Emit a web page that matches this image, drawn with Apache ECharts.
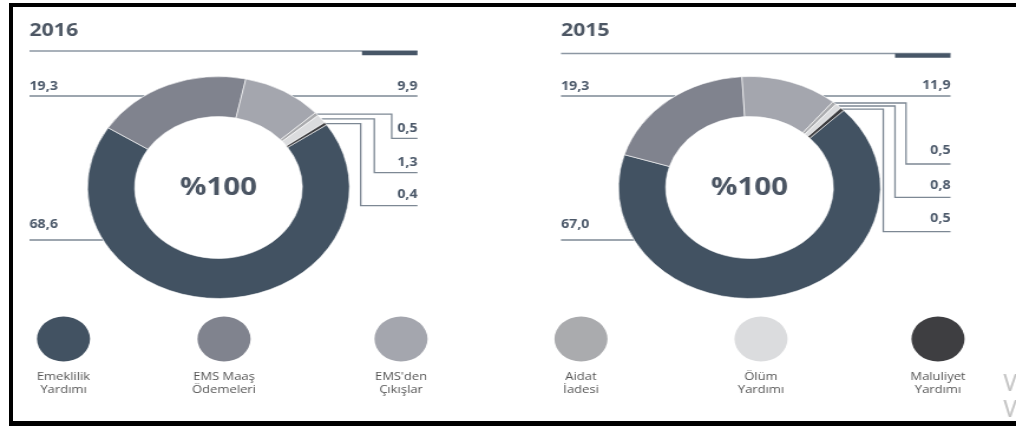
<!DOCTYPE html>
<html style="height: 100%; margin: 0">
<head>
<meta charset="UTF-8">
<title>EMS Ödemeleri 2016 / 2015</title>
<script src="https://cdn.jsdelivr.net/npm/echarts@6/dist/echarts.min.js"></script>
</head>
<body style="height: 100%; margin: 0; background: #fff; overflow: hidden">
<div id="container" style="position:absolute; left:0; top:0; width:861px; height:426px; transform:scaleX(1.18); transform-origin:0 0"></div>
<div style="position:absolute; left:9px; top:3px; width:1030px; height:414px; border-left:4px solid #000; border-top:4px solid #000; border-bottom:5px solid #000"></div>
<script type="text/javascript">
	// the reference picture is stretched sideways, so the chart is drawn narrow and scaled
	var S = 1.18;
	var W = 1016 / S;
	function ux(x) { return x / S; }

	var FONT = '"Open Sans", "Noto Sans", sans-serif';

	var years = ['2016', '2015'];
	var categories = ['Emeklilik Yardımı', 'EMS Maaş Ödemeleri', "EMS'den Çıkışlar", 'Aidat İadesi', 'Ölüm Yardımı', 'Maluliyet Yardımı'];
	var values2016 = [68.6, 19.3, 9.9, 0.5, 1.3, 0.4];
	var values2015 = [67.0, 19.3, 11.9, 0.5, 0.8, 0.5];
	var totalLabel = '%100';
	var colors = ['#425262', '#80838e', '#a4a6ae', '#aaabae', '#dbdcde', '#3e3e41'];

	// placement, in reference pixels
	var R_OUT = 111, R_IN = 71, CY = 187.5;
	var legendX = [63.5, 224, 401, 581, 761, 938];
	var rows2016 = [
		{ side: 'left', line: 240, text: 225 },
		{ side: 'left', line: 96, text: 86.5 },
		{ side: 'right', line: 96, text: 86.5 },
		{ side: 'step', col: 391.7, line: 138.3, text: 129 },
		{ side: 'step', col: 374.3, line: 172.7, text: 163 },
		{ side: 'step', col: 360.7, line: 205.7, text: 194.5 }
	];
	var rows2015 = [
		{ side: 'left', line: 240, text: 225 },
		{ side: 'left', line: 96, text: 86.5 },
		{ side: 'right', line: 96, text: 86 },
		{ side: 'step', col: 906, line: 164, text: 151 },
		{ side: 'step', col: 895, line: 197.3, text: 186 },
		{ side: 'step', col: 883.3, line: 231.7, text: 219 }
	];
	var donuts = [
		{ cx: 218.5, startAngle: 34.4, left: 29.5, right: 417.5, lineY: 51, values: values2016, rows: rows2016 },
		{ cx: 749.5, startAngle: 44, left: 561, right: 950.5, lineY: 53.5, values: values2015, rows: rows2015 }
	];

	function fmt(v) { return v.toFixed(1).replace('.', ','); }

	function labelLayoutFor(d) {
		var total = 0;
		d.values.forEach(function (v) { total += v; });
		return function (p) {
			var i = p.dataIndex, row = d.rows[i];
			var pts, x, align;
			if (row.side === 'step') {
				var before = 0;
				for (var k = 0; k < i; k++) before += d.values[k];
				var a = (90 - d.startAngle + (before + d.values[i] / 2) / total * 360) * Math.PI / 180;
				var sx = d.cx + R_OUT * S * Math.sin(a);
				var sy = CY - R_OUT * Math.cos(a);
				pts = [[sx, sy], [row.col, sy], [row.col, row.line], [d.right, row.line]];
				x = d.right; align = 'right';
			} else {
				var half = Math.sqrt(R_OUT * R_OUT - (row.line - CY) * (row.line - CY)) * S;
				if (row.side === 'left') {
					pts = [[d.cx - half, row.line], [d.left, row.line]];
					x = d.left; align = 'left';
				} else {
					pts = [[d.cx + half, row.line], [d.right, row.line]];
					x = d.right; align = 'right';
				}
			}
			return {
				x: ux(x), y: row.text, align: align, verticalAlign: 'middle',
				labelLinePoints: pts.map(function (q) { return [ux(q[0]), q[1]]; })
			};
		};
	}

	var dom = document.getElementById("container");
	var myChart = echarts.init(dom);

	var series = donuts.map(function (d) {
		return {
			type: 'pie',
			silent: true,
			center: [ux(d.cx), CY],
			radius: [R_IN, R_OUT],
			startAngle: d.startAngle,
			clockwise: true,
			avoidLabelOverlap: false,
			emphasis: { disabled: true },
			itemStyle: { borderColor: '#fff', borderWidth: 0.6 },
			label: {
				show: true,
				position: 'outside',
				formatter: function (p) { return fmt(p.value); },
				fontFamily: FONT, fontSize: 12, fontWeight: 'bold', color: '#4b5869'
			},
			labelLine: { show: true, smooth: false, lineStyle: { color: '#7d8894', width: 1.3 } },
			labelLayout: labelLayoutFor(d),
			data: d.values.map(function (v, i) {
				return { name: categories[i], value: v, itemStyle: { color: colors[i] } };
			})
		};
	});

	// legend row: one round marker per category
	series.push({
		type: 'scatter',
		silent: true,
		symbol: 'circle',
		symbolSize: 45,
		itemStyle: { opacity: 1 },
		label: {
			show: true, position: 'bottom', distance: 9,
			formatter: function (p) {
				var k = p.name.lastIndexOf(' ');
				return p.name.slice(0, k) + '\n' + p.name.slice(k + 1);
			},
			fontFamily: FONT, fontSize: 11, lineHeight: 13, color: '#555555', align: 'center'
		},
		data: categories.map(function (c, i) {
			return { name: c, value: [ux(legendX[i]), 0.5], itemStyle: { color: colors[i], opacity: 1 } };
		})
	});

	var graphics = [];
	donuts.forEach(function (d) {
		graphics.push({ type: 'line', silent: true, shape: { x1: ux(d.left), y1: d.lineY, x2: ux(d.right), y2: d.lineY }, style: { stroke: '#8d97a3', lineWidth: 1.5 } });
		graphics.push({ type: 'rect', silent: true, shape: { x: ux(d.right - 55.5), y: d.lineY, width: ux(55.5), height: 4.2 }, style: { fill: '#475667' } });
		graphics.push({ type: 'text', silent: true, x: ux(d.cx), y: CY, style: { text: totalLabel, align: 'center', verticalAlign: 'middle', font: 'bold 25px ' + FONT, fill: '#4b5563' } });
	});
	graphics.push({ type: 'text', silent: true, x: ux(1003), y: 384, style: { text: "Windows'u Etkinleştir", verticalAlign: 'middle', font: '24px ' + FONT, fill: '#c4c4c4' } });
	graphics.push({ type: 'text', silent: true, x: ux(1003), y: 410, style: { text: "Windows'u etkinleştirmek için Ayarlar'a gidin.", verticalAlign: 'middle', font: '24px ' + FONT, fill: '#c4c4c4' } });

	var option = {
		animation: false,
		title: donuts.map(function (d, i) {
			return { text: years[i], left: ux(d.left), top: 22, padding: 0, textStyle: { fontFamily: FONT, fontSize: 18, fontWeight: 'bold', color: '#4d5764' } };
		}),
		grid: { left: 0, width: W, top: 289, height: 100 },
		xAxis: { type: 'value', min: 0, max: W, show: false },
		yAxis: { type: 'value', min: 0, max: 1, show: false },
		graphic: graphics,
		series: series
	};
	myChart.setOption(option, true);
</script>
</body>
</html>
